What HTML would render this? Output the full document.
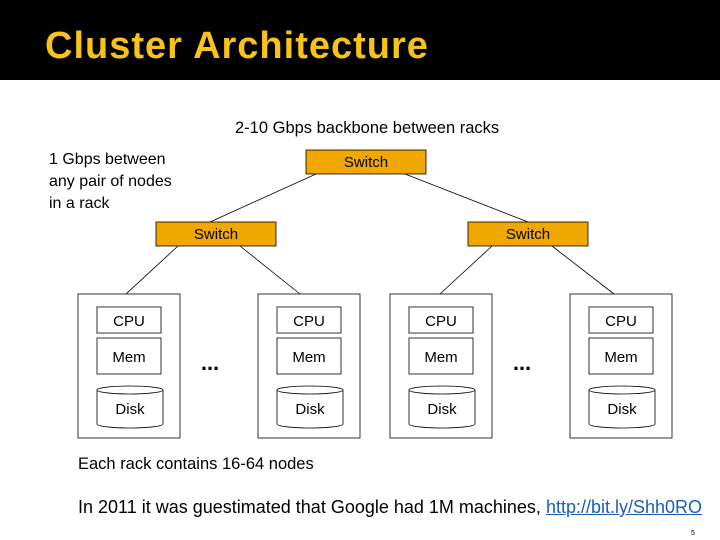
<!DOCTYPE html><html><head><style>
body{margin:0;width:720px;height:540px;background:#fff;position:relative;overflow:hidden;font-family:"Liberation Sans",sans-serif}
.h{position:absolute;left:0;top:0;width:720px;height:80px;background:#000}
.t{position:absolute;left:45px;top:25px;color:#f7c21a;font-size:38px;font-weight:bold;white-space:nowrap;letter-spacing:1px}
.a{position:absolute;font-size:16px;color:#000;white-space:nowrap}
</style></head><body>
<div class="h"></div><div class="t">Cluster Architecture</div>
<svg width="720" height="540" style="position:absolute;left:0;top:0" font-family="Liberation Sans" font-size="15">
<g stroke="#000" stroke-width="0.8" fill="none">
<line x1="316" y1="174" x2="210" y2="222"/><line x1="405" y1="174" x2="528" y2="222"/>
<line x1="178" y1="246" x2="126" y2="294"/><line x1="240" y1="246" x2="300" y2="294"/>
<line x1="492" y1="246" x2="440" y2="294"/><line x1="552" y1="246" x2="614" y2="294"/>
</g>
<g fill="#f0a800" stroke="#000" stroke-width="0.8">
<rect x="306" y="150" width="120" height="24"/><rect x="156" y="222" width="120" height="24"/><rect x="468" y="222" width="120" height="24"/>
</g>
<g text-anchor="middle" fill="#000">
<text x="366" y="167">Switch</text><text x="216" y="239">Switch</text><text x="528" y="239">Switch</text>
</g>
<g id="r">
<rect x="78" y="294" width="102" height="144" fill="#fff" stroke="#000" stroke-width="0.8"/>
<rect x="97" y="307" width="64" height="26" fill="#fff" stroke="#000" stroke-width="0.8"/>
<rect x="97" y="338" width="64" height="36" fill="#fff" stroke="#000" stroke-width="0.8"/>
<path d="M97 390 L97 424 A33 4 0 0 0 163 424 L163 390 A33 4 0 0 0 97 390 A33 4 0 0 0 163 390" fill="#fff" stroke="#000" stroke-width="0.8"/>
<text x="129" y="326" text-anchor="middle">CPU</text>
<text x="129" y="362" text-anchor="middle">Mem</text>
<text x="130" y="414" text-anchor="middle">Disk</text>
</g>
<use href="#r" x="180"/><use href="#r" x="312"/><use href="#r" x="492"/>
<text x="210" y="370" text-anchor="middle" font-size="22" font-weight="bold">...</text>
<text x="522" y="370" text-anchor="middle" font-size="22" font-weight="bold">...</text>
</svg>
<div class="a" style="left:235px;top:119px;font-size:16.5px">2-10 Gbps backbone between racks</div>
<div class="a" style="left:49px;top:149px;line-height:22px">1 Gbps between<br>any pair of nodes<br>in a rack</div>
<div class="a" style="left:78px;top:455px;font-size:16.5px">Each rack contains 16-64 nodes</div>
<div class="a" style="left:78px;top:497px;font-size:18px">In 2011 it was guestimated that Google had 1M machines, <span style="color:#1a5fb4;text-decoration:underline">http://bit.ly/Shh0RO</span></div>
<div class="a" style="left:691px;top:530px;font-size:7px">5</div>
</body></html>
